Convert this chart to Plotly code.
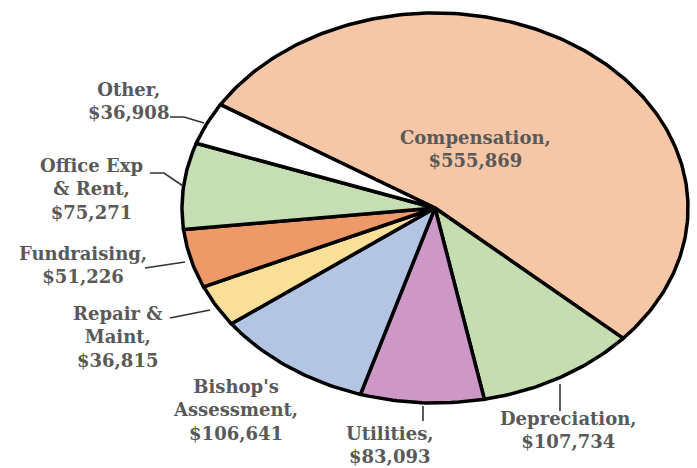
import numpy as np
import plotly.graph_objects as go

# ---- data ----
categories = ["Compensation", "Depreciation", "Utilities", "Bishop's Assessment",
              "Repair & Maint", "Fundraising", "Office Exp & Rent", "Other"]
values = [555869, 107734, 83093, 106641, 36815, 51226, 75271, 36908]
label_names = ["Compensation", "Depreciation", "Utilities", "Bishop's<br>Assessment",
               "Repair &<br>Maint", "Fundraising", "Office Exp<br>& Rent", "Other"]
colors = ["#F6C7A6", "#C6DDB2", "#CD98C6", "#B3C5E3",
          "#FADF98", "#EE9A68", "#C6DEB3", "#FFFFFF"]

# ---- layout geometry (pixels) ----
W, H = 697, 468
CX, CY, RX, RY = 435, 208, 253, 195
START_DEG = 148.0  # math angle where first slice starts, going clockwise

def px2x(px):
    return (px - CX) / RX

def py2y(py):
    return (CY - py) / RY

fig = go.Figure()

total = float(sum(values))
angle = np.deg2rad(START_DEG)
for name, v, col in zip(categories, values, colors):
    span = 2 * np.pi * v / total
    t = np.linspace(angle, angle - span, max(8, int(400 * v / total)))
    xs = np.concatenate([[0], np.cos(t), [0]])
    ys = np.concatenate([[0], np.sin(t), [0]])
    fig.add_trace(go.Scatter(x=xs, y=ys, mode="lines", fill="toself",
                             fillcolor=col, line=dict(color="#000000", width=3.5),
                             name=name, hoverinfo="skip", showlegend=False))
    angle -= span

# leader lines (pixel coords)
leaders = [
    [(170, 117), (184, 117), (204, 123)],
    [(150, 173), (164, 173), (183, 186)],
    [(145, 268), (185, 262)],
    [(170, 318), (210, 310)],
    [(423, 406), (423, 421)],
    [(560, 384), (560, 411)],
]
for pts in leaders:
    fig.add_trace(go.Scatter(x=[px2x(p[0]) for p in pts], y=[py2y(p[1]) for p in pts],
                             mode="lines", line=dict(color="#333333", width=1.6),
                             hoverinfo="skip", showlegend=False))

label_pos = [(475, 149), (568, 430), (390, 445), (235, 410),
             (118, 337), (83, 265), (91, 189), (128, 101)]
for name, v, (lx, ly) in zip(label_names, values, label_pos):
    fig.add_annotation(x=px2x(lx), y=py2y(ly), text=f"{name},<br>${v:,}",
                       showarrow=False, xanchor="center", yanchor="middle", align="center",
                       font=dict(family="DejaVu Serif", size=18, color="#595959", weight="bold"))

fig.update_xaxes(range=[px2x(0), px2x(W)], visible=False, showgrid=False, zeroline=False)
fig.update_yaxes(range=[py2y(H), py2y(0)], visible=False, showgrid=False, zeroline=False)
fig.update_layout(width=W, height=H, margin=dict(l=0, r=0, t=0, b=0),
                  paper_bgcolor="white", plot_bgcolor="white")

fig.write_html("out.html", config={"displayModeBar": False},
               post_script="document.body.style.margin='0';document.body.style.overflow='hidden';")
